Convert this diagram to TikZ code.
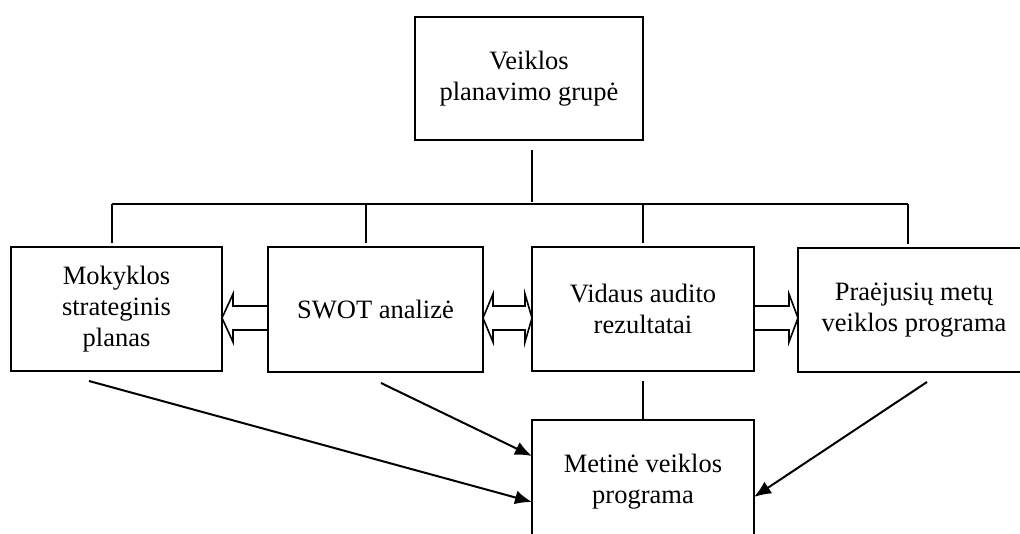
\documentclass[tikz,border=0pt]{standalone}
\usepackage{fontspec}
\setmainfont{Liberation Serif}
\usetikzlibrary{arrows.meta,calc}
\begin{document}
\begin{tikzpicture}[x=1pt,y=-1pt,
  box/.style={draw,line width=1.7pt,rectangle,inner sep=0pt,outer sep=0pt,align=center,
    font=\fontsize{26.5}{31}\selectfont},
  conn/.style={line width=1.7pt},
  bus/.style={line width=2.2pt},
  blk/.style={line width=1.6pt,line join=miter},
  arr/.style={line width=2pt,-{Latex[length=17pt,width=14pt]}}]
\useasboundingbox (0,0) rectangle (1020,534);
% boxes
\node[box,minimum width=228pt,minimum height=123pt] (top) at (529,78.5) {Veiklos\\planavimo grupė};
\node[box,minimum width=211pt,minimum height=124pt] (mok) at (116.5,309) {Mokyklos\\strateginis\\planas};
\node[box,minimum width=215pt,minimum height=125pt] (swot) at (375.5,309.5) {SWOT analizė};
\node[box,minimum width=222pt,minimum height=124pt] (vid) at (643,309) {Vidaus audito\\rezultatai};
\node[box,minimum width=232pt,minimum height=124pt] (pra) at (914,310) {Praėjusių metų\\veiklos programa};
\node[box,minimum width=222pt,minimum height=124pt] (met) at (643,482) {Metinė veiklos\\programa};
% bus
\coordinate (bt) at (532,202);
\coordinate (bm) at (112,204);
\coordinate (bs) at (366,204);
\coordinate (bv) at (643,204);
\coordinate (bp) at (908,204);
\coordinate (ya) at (0,318);
\draw[conn,shorten <=10pt] (top.south -| bt) -- (bt);
\draw[bus] (bm) -- (bp);
\draw[conn,shorten <=4pt] (mok.north -| bm) -- (bm);
\draw[conn,shorten <=4pt] (swot.north -| bs) -- (bs);
\draw[conn,shorten <=4pt] (vid.north -| bv) -- (bv);
\draw[conn,shorten <=4pt] (pra.north -| bp) -- (bp);
\draw[conn,shorten <=10pt] (vid.south) -- (met.north);
% block arrows
\draw[blk] ($(swot.west |- ya)+(0,-12)$) -- ($(mok.east |- ya)+(11,-12)$) -- ++(0,-12)
  -- (mok.east |- ya) -- ++(11,24) -- ++(0,-12) -- ($(swot.west |- ya)+(0,12)$);
\draw[blk] (swot.east |- ya) -- ++(10,-24) -- ++(0,12) -- ($(vid.west |- ya)+(-7,-12)$)
  -- ++(0,-12) -- (vid.west |- ya) -- ++(-7,24) -- ++(0,-12)
  -- ($(swot.east |- ya)+(10,12)$) -- ++(0,12) -- cycle;
\draw[blk] ($(vid.east |- ya)+(0,-12)$) -- ($(pra.west |- ya)+(-9,-12)$) -- ++(0,-12)
  -- (pra.west |- ya) -- ++(-9,24) -- ++(0,-12) -- ($(vid.east |- ya)+(0,12)$);
% arrows to annual programme
\coordinate (a1) at ($(mok.south)+(-27.5,10)$);
\coordinate (a2) at ($(swot.south)+(5.5,11)$);
\coordinate (a3) at ($(pra.south)+(13,10)$);
\draw[arr] (a1) -- ($(met.west)+(0,20)$);
\draw[arr] (a2) -- ($(met.west)+(0,-26)$);
\draw[arr] (a3) -- ($(met.east)+(0,15)$);
\end{tikzpicture}
\end{document}
